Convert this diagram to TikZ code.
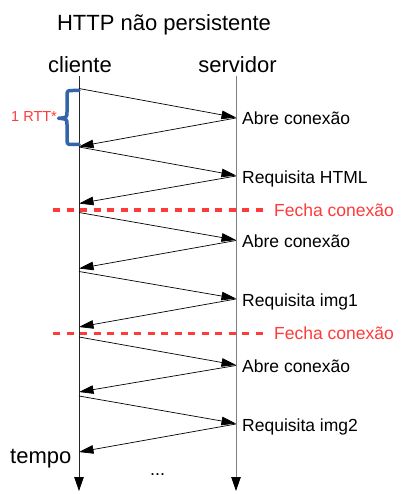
\documentclass[tikz,border=0pt]{standalone}
\usepackage{fontspec}
\setmainfont{Liberation Sans}
\usetikzlibrary{arrows.meta}
\definecolor{fred}{RGB}{255,58,58}
\definecolor{bblue}{RGB}{52,100,170}
\definecolor{srvgray}{RGB}{128,128,128}
\begin{document}
\begin{tikzpicture}[x=1pt,y=-1pt,
  big/.style={font=\fontsize{22}{26}\selectfont, inner sep=0pt},
  lbl/.style={font=\fontsize{17.5}{21}\selectfont, inner sep=0pt, anchor=base west},
  redlbl/.style={lbl, text=fred},
  msg/.style={line width=0.7pt, -{Triangle[length=14.5pt,width=8.5pt]}},
  life/.style={line width=0.8pt, -{Triangle[length=14pt,width=9.5pt,color=black,fill=black]}},
  closeline/.style={fred, line width=3.2pt, dash pattern=on 7pt off 6.5pt},
  brace/.style={bblue, line width=3.5pt, line cap=round, line join=round},
]
\useasboundingbox (0,0) rectangle (402,494);

% title and headers
\node[big, anchor=base] (title) at (164,31) {HTTP não persistente};
\node[big, anchor=base] (cli) at (80,73) {cliente};
\node[big, anchor=base] (srv) at (237.5,73) {servidor};

% lifelines
\coordinate (ctop) at (79,76);
\coordinate (cbot) at (79,491);
\coordinate (stop) at (236,76);
\coordinate (sbot) at (236,491);
\draw[life, black!85] (ctop) -- (cbot);
\draw[life, srvgray] (stop) -- (sbot);

% points on the client line
\coordinate (c1) at (79,88.5);
\coordinate (c2) at (79,146.5);
\coordinate (c3) at (79,147);
\coordinate (c4) at (79,203.5);
\coordinate (c5) at (79,212.5);
\coordinate (c6) at (79,268.5);
\coordinate (c7) at (79,271.5);
\coordinate (c8) at (79,327);
\coordinate (c9) at (79,337);
\coordinate (c10) at (79,392);
\coordinate (c11) at (79,396);
\coordinate (c12) at (79,452);
% points on the server line
\coordinate (s1) at (236,117.5);
\coordinate (s2) at (236,118);
\coordinate (s3) at (236,175.5);
\coordinate (s4) at (236,176);
\coordinate (s5) at (236,240);
\coordinate (s6) at (236,240.5);
\coordinate (s7) at (236,298.5);
\coordinate (s8) at (236,299);
\coordinate (s9) at (236,365);
\coordinate (s10) at (236,365.5);
\coordinate (s11) at (236,423.5);
\coordinate (s12) at (236,424);

% messages
\draw[msg] (c1) -- (s1);
\draw[msg] (s2) -- (c2);
\draw[msg] (c3) -- (s3);
\draw[msg] (s4) -- (c4);
\draw[msg] (c5) -- (s5);
\draw[msg] (s6) -- (c6);
\draw[msg] (c7) -- (s7);
\draw[msg] (s8) -- (c8);
\draw[msg] (c9) -- (s9);
\draw[msg] (s10) -- (c10);
\draw[msg] (c11) -- (s11);
\draw[msg] (s12) -- (c12);

% labels
\node[lbl] (l1) at (242,124.5) {Abre conexão};
\node[lbl] (l2) at (242,183) {Requisita HTML};
\node[lbl] (l3) at (242,247.5) {Abre conexão};
\node[lbl] (l4) at (242,306) {Requisita img1};
\node[lbl] (l5) at (242,372.5) {Abre conexão};
\node[lbl] (l6) at (242,431.5) {Requisita img2};

% connection close lines
\coordinate (d1a) at (53,210);
\coordinate (d1b) at (268,210);
\coordinate (d2a) at (53,333.3);
\coordinate (d2b) at (268,333.3);
\draw[closeline] (d1a) -- (d1b);
\draw[closeline] (d2a) -- (d2b);
\node[redlbl] (f1) at (274,216.5) {Fecha conexão};
\node[redlbl] (f2) at (274,339.5) {Fecha conexão};

% RTT brace
\draw[brace] (79,90.5) -- (73,90.5) .. controls (67,90.5) .. (67,96.5) -- (67,112)
  .. controls (67,117.5) .. (58.5,118.3) .. controls (67,119) .. (67,124.5)
  -- (67,138.5) .. controls (67,144.5) .. (73,144.5) -- (79,144.5);
\node[font=\fontsize{14.5}{17}\selectfont, text=fred, inner sep=0pt, anchor=base west] (rtt) at (11,121.8) {1 RTT*};

% time and ellipsis
\node[big, anchor=base west] (tempo) at (10,463) {tempo};
\node[font=\fontsize{18}{21}\selectfont, inner sep=0pt, anchor=base] (dots) at (157.5,475) {...};
\end{tikzpicture}
\end{document}
